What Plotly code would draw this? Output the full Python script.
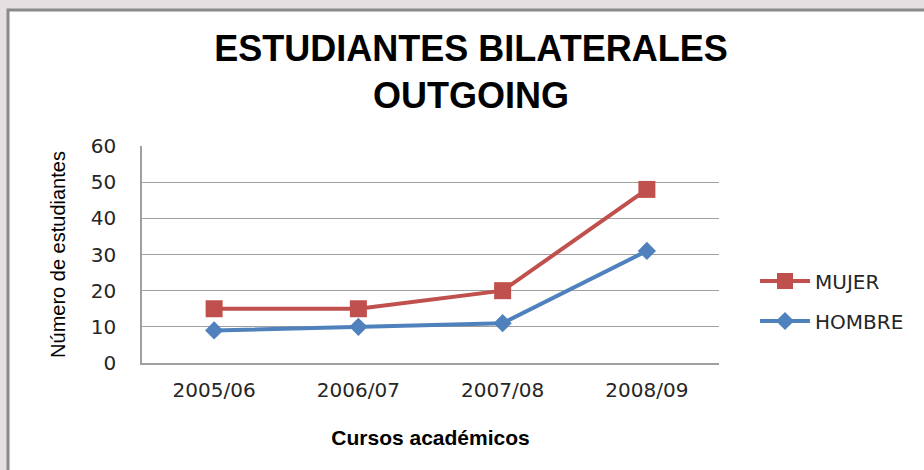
import plotly.graph_objects as go

cursos = ["2005/06", "2006/07", "2007/08", "2008/09"]
mujer = [15, 15, 20, 48]
hombre = [9, 10, 11, 31]
y_ticks = [0, 10, 20, 30, 40, 50, 60]

SANS = "Liberation Sans, Arial, sans-serif"
WIDE = "DejaVu Sans, Verdana, sans-serif"

# plot area in pixels: x 142..719, y 146..363
L, R, T, B = 142, 205, 146, 107
PW, PH = 924 - L - R, 470 - T - B

fig = go.Figure()
fig.add_trace(go.Scatter(
    x=cursos, y=mujer, name="MUJER", mode="lines+markers", legendgroup="m",
    line=dict(color="#C0504D", width=4),
    marker=dict(symbol="square", size=17, color="#C0504D"),
))
fig.add_trace(go.Scatter(
    x=cursos, y=hombre, name="HOMBRE", mode="lines+markers", legendgroup="h",
    line=dict(color="#4F81BD", width=4),
    marker=dict(symbol="diamond", size=14, color="#4F81BD"),
))

fig.update_layout(
    width=924, height=470,
    margin=dict(l=L, r=R, t=T, b=B),
    paper_bgcolor="#e4dfe1",
    plot_bgcolor="white",
    title=dict(
        text="<b>ESTUDIANTES BILATERALES<br>OUTGOING</b>",
        x=471 / 924, xanchor="center", y=1 - 61 / 470, yanchor="top",
        font=dict(family=SANS, size=36, color="black"),
    ),
    showlegend=True,
    legend=dict(
        x=(755 - 142) / PW, xanchor="left", y=(363 - 301) / PH, yanchor="middle",
        font=dict(family=WIDE, size=20, color="#262626"),
        bgcolor="rgba(0,0,0,0)", itemwidth=50, tracegroupgap=11,
    ),
    xaxis=dict(
        type="category", range=[-0.5, 3.5],
        showgrid=False, showline=True, linecolor="#A0A0A0", linewidth=1.5,
        ticks="", ticklabelstandoff=8,
        tickfont=dict(family=WIDE, size=20, color="#262626"),
        title=dict(text="<b>Cursos académicos</b>", standoff=30,
                   font=dict(family=SANS, size=21, color="black")),
    ),
    yaxis=dict(
        range=[0, 60], tickvals=y_ticks,
        showgrid=True, gridcolor="#A0A0A0", gridwidth=1,
        showline=True, linecolor="#A0A0A0", linewidth=1.5,
        zeroline=False,
        ticks="", ticklabelstandoff=20,
        tickfont=dict(family=WIDE, size=20, color="#262626"),
        title=dict(text="Número de estudiantes", standoff=20,
                   font=dict(family=SANS, size=20, color="black")),
    ),
    shapes=[dict(
        type="rect", xref="paper", yref="paper", layer="below",
        x0=(8 - L) / PW, x1=1.5, y0=-1, y1=1 + (T - 10) / PH,
        fillcolor="white", line=dict(color="#8a8a8a", width=3),
    )],
)

fig.write_html("out.html", config={"displayModeBar": False},
               post_script="document.body.style.margin='0px';")
